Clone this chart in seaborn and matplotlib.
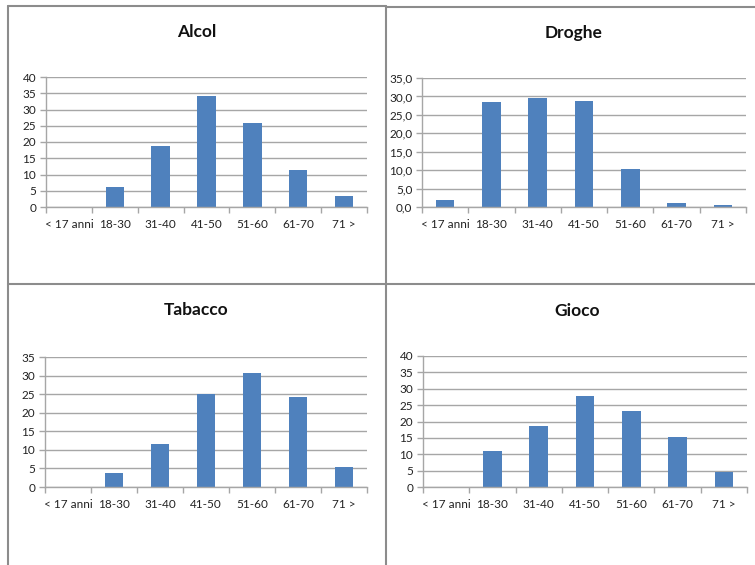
import matplotlib
matplotlib.use("Agg")
import matplotlib.pyplot as plt
from matplotlib.lines import Line2D
from matplotlib.ticker import FuncFormatter, FixedLocator, MultipleLocator
import seaborn as sns
import pandas as pd

categories = ["< 17 anni", "18-30", "31-40", "41-50", "51-60", "61-70", "71 >"]
alcol = [0.0, 6.1, 18.8, 34.1, 25.8, 11.4, 3.4]
droghe = [2.0, 28.4, 29.6, 28.7, 10.2, 1.0, 0.5]
tabacco = [0.0, 3.9, 11.5, 25.0, 30.8, 24.3, 5.4]
gioco = [0.0, 10.9, 18.6, 27.7, 23.1, 15.2, 4.7]

titles = ["Alcol", "Droghe", "Tabacco", "Gioco"]
series = [alcol, droghe, tabacco, gioco]
ymax = [40, 35, 35, 40]
decimal_comma = [False, True, False, False]

sns.set_theme(style="white")
plt.rcParams["font.family"] = ["Lato", "DejaVu Sans"]

W, H = 755, 565
fig = plt.figure(figsize=(W / 100, H / 100), dpi=100)

# plot-area boxes in pixels: left, right, top, bottom
boxes = [(46, 367, 77, 207), (422, 746, 78, 207), (45, 367, 357, 487), (423, 747, 356, 487)]
title_pos = [(197, 32), (574, 33), (196, 310), (577, 311)]

bar_color = "#4F81BD"
grid_color = "#A6A6A6"

for i in range(4):
    l, r, t, b = boxes[i]
    ax = fig.add_axes([l / W, 1 - b / H, (r - l) / W, (b - t) / H])
    df = pd.DataFrame({"cat": categories, "val": series[i]})
    sns.barplot(data=df, x="cat", y="val", color=bar_color, width=0.4,
                saturation=1, ax=ax, order=categories, linewidth=0)
    ax.set_xlim(-0.5, len(categories) - 0.5)
    ax.set_ylim(0, ymax[i])
    ax.yaxis.set_major_locator(MultipleLocator(5))
    if decimal_comma[i]:
        ax.yaxis.set_major_formatter(FuncFormatter(lambda v, p: f"{v:.1f}".replace(".", ",")))
    else:
        ax.yaxis.set_major_formatter(FuncFormatter(lambda v, p: f"{v:.0f}"))
    ax.set_xlabel("")
    ax.set_ylabel("")
    ax.grid(axis="y", color=grid_color, linewidth=1.0)
    ax.set_axisbelow(True)
    for s in ["top", "right"]:
        ax.spines[s].set_visible(False)
    for s in ["left", "bottom"]:
        ax.spines[s].set_color(grid_color)
        ax.spines[s].set_linewidth(1.0)
    ax.xaxis.set_minor_locator(FixedLocator([k - 0.5 for k in range(len(categories) + 1)]))
    ax.tick_params(axis="x", which="major", length=0, pad=9, labelsize=8.5, labelcolor="#222222")
    ax.tick_params(axis="x", which="minor", length=4, width=1, color=grid_color, direction="out", bottom=True)
    ax.tick_params(axis="y", which="major", length=4, width=1, color=grid_color, direction="out",
                   left=True, pad=3, labelsize=8.5, labelcolor="#222222")
    fig.text(title_pos[i][0] / W, 1 - title_pos[i][1] / H, titles[i], ha="center", va="center",
             fontsize=12.5, fontweight="bold", color="#111111")

# panel frames
border = "#8C8C8C"
def hline(x0, x1, y):
    fig.add_artist(Line2D([x0 / W, x1 / W], [1 - y / H, 1 - y / H], color=border, linewidth=1.5,
                          transform=fig.transFigure))
def vline(x, y0, y1):
    fig.add_artist(Line2D([x / W, x / W], [1 - y0 / H, 1 - y1 / H], color=border, linewidth=1.5,
                          transform=fig.transFigure))

hline(8, 386, 6)
hline(386, 755, 7)
hline(8, 755, 284)
vline(8, 6, 565)
vline(386, 6, 565)

fig.savefig("out.png", dpi=100)
